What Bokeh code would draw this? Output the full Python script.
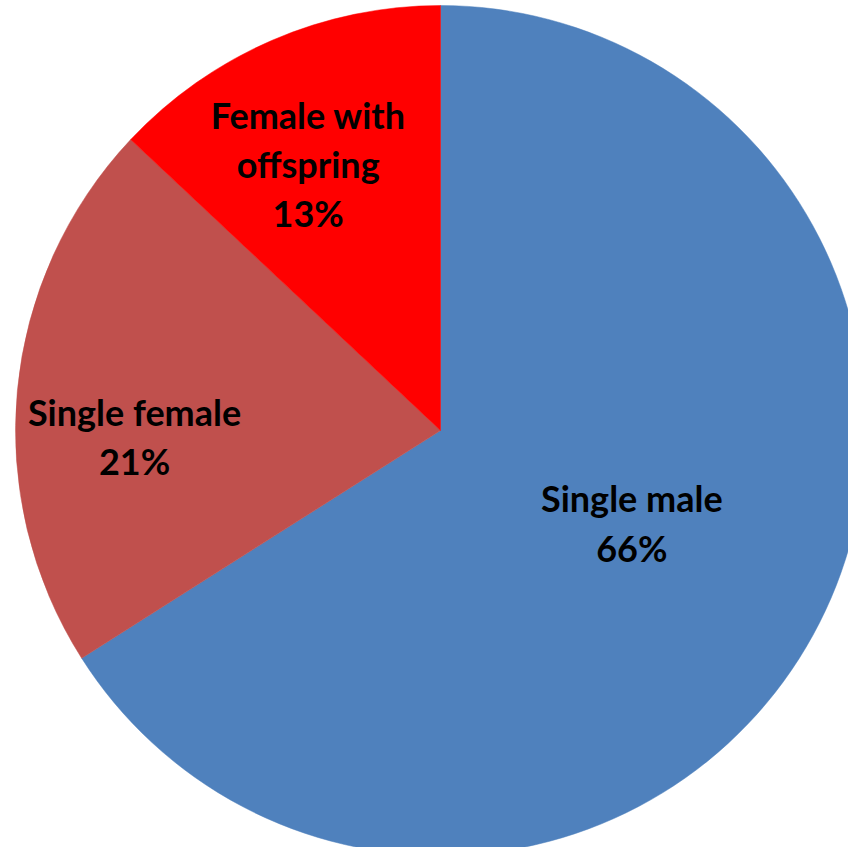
import math
from bokeh.plotting import figure
from bokeh.models import Range1d, ColumnDataSource
from bokeh.core.properties import value
from bokeh.embed import file_html
from bokeh.resources import INLINE

categories = ["Single male", "Single female", "Female with\noffspring"]
percents = [66, 21, 13]
colors = ["#4F81BD", "#C0504D", "#FF0000"]

W, H = 848, 847
cx, cy, R = 440, H - 430, 425

# angles: start at top, go clockwise
starts, ends, mids = [], [], []
a = math.pi / 2
for pct in percents:
    sweep = pct / 100 * 2 * math.pi
    starts.append(a)
    ends.append(a - sweep)
    mids.append(a - sweep / 2)
    a -= sweep

# label placement (fraction of radius, angle tweak in degrees)
label_r = [0.50, 0.72, 0.70]
label_da = [3.0, 6.5, 3.0]
lx, ly, labels = [], [], []
for cat, pct, m, fr, da in zip(categories, percents, mids, label_r, label_da):
    ang = m + math.radians(da)
    lx.append(cx + fr * R * math.cos(ang))
    ly.append(cy + fr * R * math.sin(ang))
    labels.append(f"{cat}\n{pct}%")

src = ColumnDataSource(dict(start=starts, end=ends, color=colors,
                            x=[cx] * 3, y=[cy] * 3))
lsrc = ColumnDataSource(dict(x=lx, y=ly, text=labels))

p = figure(width=W, height=H, output_backend="svg", toolbar_location=None,
           x_range=Range1d(0, W), y_range=Range1d(0, H), min_border=0,
           outline_line_color=None, background_fill_color="white")
p.axis.visible = False
p.xgrid.visible = False
p.ygrid.visible = False

p.wedge(x="x", y="y", radius=R, start_angle="start", end_angle="end",
        direction="clock", fill_color="color", line_color="color",
        line_width=0.5, source=src)

p.text(x="x", y="y", text="text", source=lsrc, text_align="center",
       text_baseline="middle", text_font=value("Lato"),
       text_font_style="bold", text_font_size="36px",
       text_line_height=1.12, text_color="black")

open("out.html", "w").write(file_html(p, INLINE))
